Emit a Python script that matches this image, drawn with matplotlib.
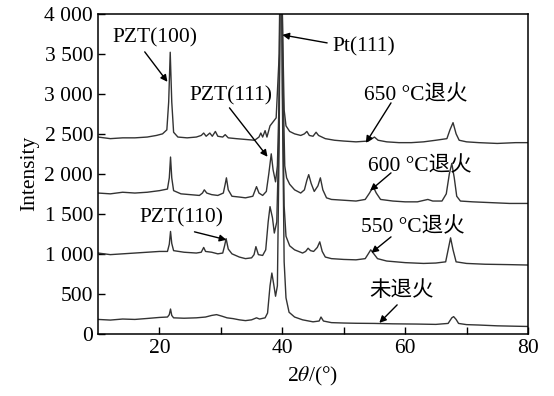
import matplotlib
matplotlib.use("Agg")
import matplotlib.pyplot as plt

plt.rcParams['font.family'] = ['Liberation Serif', 'Noto Sans CJK SC']
plt.rcParams['mathtext.fontset'] = 'stix'

# --- data (2theta in degrees, intensity in counts) ---
tt_raw = [10, 12, 14, 16, 18, 20, 21.3, 21.6, 21.8, 22.0, 22.3, 24, 26, 27.5, 28.5,
          29.3, 30.2, 31, 32, 33, 34, 35, 35.8, 36.3, 37.2, 37.6, 38.0, 38.3, 38.6,
          38.9, 39.2, 39.5, 39.75, 40.0, 40.3, 40.6, 41.1, 42, 43.3, 45, 46.0, 46.3,
          46.7, 48, 50, 52, 55, 58, 62, 65, 67, 67.6, 67.9, 68.3, 68.7, 70, 72, 75,
          78, 80]
i_raw = [180, 172, 185, 180, 192, 205, 210, 240, 310, 230, 200, 195, 200, 210, 230,
         240, 220, 200, 190, 175, 165, 175, 200, 185, 200, 260, 600, 760, 620,
         470, 600, 2500, 6000, 3000, 900, 450, 270, 210, 175, 150, 160, 210,
         160, 140, 135, 132, 130, 125, 122, 118, 130, 200, 215, 180, 130, 115, 110, 100,
         95, 92]

tt_550 = [10, 12, 14, 16, 18, 20, 21.3, 21.6, 21.8, 22.0, 22.3, 24, 26, 26.8, 27.2,
          27.5, 28.5, 29.5, 30.3, 30.6, 30.85, 31.2, 31.8, 33, 34, 35, 35.4, 35.7,
          36.1, 36.8, 37.3, 37.7, 38.0, 38.4, 38.7, 39.1, 39.45, 39.75, 40.05, 40.3,
          40.6, 41.2, 42, 43.3, 43.8, 44.2, 44.6, 45.1, 45.7, 46.1, 46.5, 47, 48, 50,
          52, 53.5, 54.0, 54.4, 54.9, 55.5, 57, 60, 63, 65, 66.6, 67.0, 67.4, 67.8,
          68.3, 70, 73, 77, 80]
i_550 = [1010, 990, 1000, 1010, 1020, 1030, 1030, 1120, 1280, 1130, 1040, 1020, 1010,
         1020, 1080, 1030, 1020, 1000, 1010, 1100, 1190, 1060, 1000, 960, 940, 950,
         990, 1090, 990, 980, 1050, 1400, 1590, 1450, 1260, 1400, 2500, 6000, 3000,
         1600, 1220, 1100, 1050, 1010, 1030, 1070, 1040, 1030, 1080, 1150, 1030, 960,
         940, 930, 925, 940, 1000, 1050, 1000, 940, 910, 890, 880, 885, 900, 1050,
         1200, 1050, 900, 880, 870, 865, 860]

tt_600 = [10, 12, 14, 16, 18, 20, 21.3, 21.6, 21.8, 22.0, 22.3, 23.5, 25, 26.5, 27.0,
          27.3, 27.7, 28.5, 29.5, 30.4, 30.7, 30.9, 31.2, 31.8, 33, 34, 35.2, 35.5,
          35.8, 36.2, 36.8, 37.4, 37.8, 38.2, 38.5, 38.9, 39.2, 39.5, 39.8, 40.1, 40.4,
          40.7, 41.2, 42, 43, 43.6, 44.0, 44.3, 44.7, 45.2, 45.8, 46.2, 46.6, 47.2, 48,
          50, 52, 53.5, 54.2, 54.8, 55.3, 56, 58, 60, 62, 63.7, 64.5, 66, 66.7, 67.2,
          67.6, 68.0, 68.4, 69, 71, 74, 77, 80]
i_600 = [1760, 1750, 1770, 1760, 1770, 1790, 1810, 1950, 2210, 1950, 1790, 1750, 1740,
         1730, 1760, 1800, 1760, 1740, 1730, 1760, 1870, 1950, 1800, 1720, 1710, 1700,
         1720, 1780, 1840, 1760, 1730, 1780, 2000, 2250, 2050, 1900, 2100, 3000, 6000,
         3200, 2100, 1950, 1870, 1800, 1760, 1800, 1920, 1990, 1880, 1780, 1850, 1950,
         1800, 1700, 1680, 1670, 1660, 1680, 1760, 1840, 1760, 1680, 1660, 1650, 1650,
         1680, 1660, 1660, 1750, 2000, 2130, 1950, 1720, 1660, 1650, 1640, 1630, 1630]

tt_650 = [10, 12, 14, 16, 18, 19.5, 20.5, 21.2, 21.5, 21.75, 22.0, 22.3, 23, 24.5, 26,
          26.8, 27.2, 27.6, 28.2, 28.6, 29.1, 29.5, 30.3, 30.7, 31.2, 32.5, 34, 35.5,
          36.2, 36.5, 36.8, 37.2, 37.5, 38.0, 38.5, 39.0, 39.5, 39.8, 40.0, 40.3, 40.6,
          41.2, 42, 43, 43.6, 44.0, 44.4, 45, 45.5, 45.9, 47, 48.5, 50, 52, 54, 55.0,
          55.6, 57, 59, 61, 63, 65, 66.8, 67.3, 67.8, 68.3, 68.8, 70, 72, 75, 78, 80]
i_650 = [2460, 2440, 2450, 2450, 2460, 2480, 2500, 2550, 2900, 3520, 2900, 2520, 2460,
         2450, 2460, 2480, 2510, 2470, 2510, 2470, 2530, 2470, 2460, 2490, 2450, 2440,
         2430, 2420, 2460, 2510, 2460, 2540, 2460, 2600, 2650, 2700, 3500, 6000, 4000,
         2800, 2600, 2530, 2500, 2480, 2500, 2530, 2480, 2470, 2520, 2480, 2440, 2420,
         2410, 2400, 2410, 2460, 2420, 2400, 2390, 2390, 2400, 2420, 2440, 2550, 2640,
         2500, 2420, 2400, 2390, 2380, 2390, 2390]

y_ticks = [0, 500, 1000, 1500, 2000, 2500, 3000, 3500, 4000]
y_tick_labels = ['0', '500', '1 000', '1 500', '2 000', '2 500', '3 000', '3 500', '4 000']
x_ticks = [20, 40, 60, 80]
x_minor_ticks = [30, 50, 70]

fig = plt.figure(figsize=(5.54, 3.96), dpi=100)
ax = fig.add_axes([0.177, 0.157, 0.776, 0.808])

line_kw = dict(color='#333333', lw=1.0)
for xs, ys in [(tt_raw, i_raw), (tt_550, i_550), (tt_600, i_600), (tt_650, i_650)]:
    ax.plot(xs, ys, **line_kw)

ax.set_xlim(10, 80)
ax.set_ylim(0, 4000)
ax.set_xticks(x_ticks)
ax.set_xticks(x_minor_ticks, minor=True)
ax.set_yticks(y_ticks)
ax.set_yticklabels(y_tick_labels)
ax.tick_params(which='both', direction='in', length=5, width=1.0, labelsize=15.5,
               top=False, right=False)
for sp in ax.spines.values():
    sp.set_linewidth(1.1)

ax.set_xlabel(r'2$\mathit{\theta}$/(°)', fontsize=15.5, labelpad=5)
ax.set_ylabel('Intensity', fontsize=15.5, labelpad=4)

# annotations: (text, text pos, arrow start, arrow tip)
notes = [
    ('PZT(100)', (19.2, 3700), (17.6, 3525), (21.3, 3150)),
    ('PZT(111)', (31.7, 2975), (31.4, 2825), (37.6, 2213)),
    ('Pt(111)', (53.2, 3590), (47.3, 3637), (40.0, 3737)),
    ('650 °C退火', (61.8, 2980), (57.7, 2887), (53.6, 2387)),
    ('600 °C退火', (62.4, 2090), (57.7, 2012), (54.3, 1790)),
    ('550 °C退火', (61.3, 1330), (57.7, 1212), (54.5, 1012)),
    ('PZT(110)', (23.6, 1450), (25.7, 1275), (30.9, 1175)),
    ('未退火', (59.4, 530), (58.7, 362), (55.8, 137)),
]
for label, tpos, start, tip in notes:
    ax.text(tpos[0], tpos[1], label, fontsize=15.5, ha='center', va='center')
    ax.annotate('', xy=tip, xytext=start,
                arrowprops=dict(arrowstyle='-|>', color='k', lw=1.0,
                                mutation_scale=10, shrinkA=0, shrinkB=0))

fig.savefig('out.png', dpi=100)
